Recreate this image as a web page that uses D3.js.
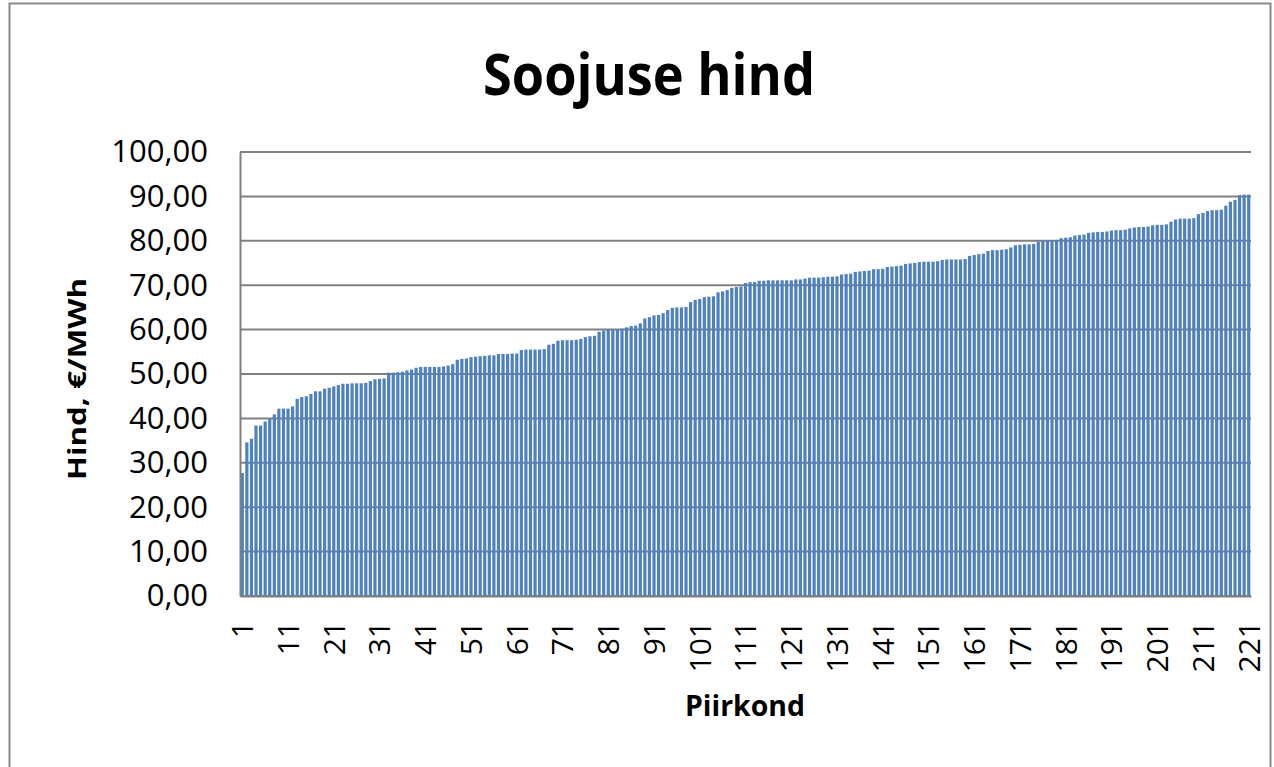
<!DOCTYPE html>
<html>
<head>
<meta charset="utf-8">
<script src="https://cdn.jsdelivr.net/npm/d3@7"></script>
<style>
  html, body { margin: 0; padding: 0; background: #fff; }
  svg { display: block; font-family: "Open Sans", "Noto Sans", sans-serif; }
</style>
</head>
<body>
<svg id="chart" width="1274" height="767"></svg>
<script>
// Hinnad piirkondade kaupa (sorteeritud), €/MWh
const prices = [
  27.7, 34.6, 35.4, 38.4, 38.4, 39.3, 39.9, 40.9, 42.2, 42.2,
  42.2, 42.7, 44.4, 44.8, 45.0, 45.5, 46.1, 46.1, 46.7, 46.9,
  47.2, 47.5, 47.8, 47.8, 47.9, 47.9, 47.9, 48.0, 48.4, 48.8,
  48.9, 49.0, 50.3, 50.3, 50.4, 50.5, 50.8, 51.0, 51.4, 51.6,
  51.6, 51.6, 51.6, 51.6, 51.7, 51.9, 52.2, 53.2, 53.4, 53.5,
  53.8, 53.9, 54.0, 54.1, 54.2, 54.2, 54.5, 54.5, 54.5, 54.6,
  54.6, 55.4, 55.5, 55.5, 55.5, 55.5, 55.6, 56.6, 56.8, 57.5,
  57.6, 57.6, 57.6, 57.7, 57.9, 58.3, 58.5, 58.6, 59.5, 59.8,
  60.0, 60.0, 60.1, 60.2, 60.5, 60.8, 60.9, 61.4, 62.5, 62.8,
  63.2, 63.3, 63.7, 64.4, 64.9, 65.0, 65.0, 65.1, 66.2, 66.7,
  66.9, 67.3, 67.4, 67.5, 68.4, 68.6, 68.9, 69.4, 69.6, 69.7,
  70.5, 70.7, 70.7, 71.0, 71.0, 71.1, 71.1, 71.1, 71.1, 71.1,
  71.1, 71.3, 71.3, 71.5, 71.7, 71.7, 71.7, 71.8, 71.9, 71.9,
  72.0, 72.4, 72.5, 72.6, 73.0, 73.1, 73.2, 73.3, 73.6, 73.6,
  73.7, 74.1, 74.2, 74.3, 74.4, 74.8, 74.9, 75.0, 75.2, 75.3,
  75.3, 75.3, 75.4, 75.7, 75.8, 75.8, 75.8, 75.8, 75.9, 76.6,
  76.8, 77.0, 77.1, 77.7, 77.9, 77.9, 78.0, 78.1, 78.5, 79.0,
  79.1, 79.2, 79.2, 79.3, 79.8, 80.0, 80.0, 80.1, 80.2, 80.6,
  80.7, 80.8, 81.2, 81.3, 81.4, 81.8, 81.9, 82.0, 82.0, 82.1,
  82.3, 82.4, 82.4, 82.5, 82.8, 83.0, 83.1, 83.1, 83.2, 83.5,
  83.6, 83.6, 83.7, 84.3, 84.8, 85.0, 85.0, 85.0, 85.1, 86.0,
  86.3, 86.7, 86.9, 86.9, 87.0, 87.9, 88.8, 89.2, 90.3, 90.4,
  90.4
];

// Piirkonna numbrid 1..221
const regions = prices.map((p, i) => i + 1);

// Telje jaotised
const yTicks = [0, 10, 20, 30, 40, 50, 60, 70, 80, 90, 100];
const xTickLabels = [1, 11, 21, 31, 41, 51, 61, 71, 81, 91, 101, 111, 121,
  131, 141, 151, 161, 171, 181, 191, 201, 211, 221];

const titleText = "Soojuse hind";
const yTitle = "Hind, €/MWh";
const xTitle = "Piirkond";

const svg = d3.select("#chart");

const plot = { left: 240, right: 1251, top: 152, bottom: 596 };

// chart frame
svg.append("rect")
  .attr("x", 9.5).attr("y", 3.5)
  .attr("width", 1261).attr("height", 780)
  .attr("fill", "#fff")
  .attr("stroke", "#8a8a8a")
  .attr("stroke-width", 2);

const x = d3.scaleBand()
  .domain(regions)
  .range([plot.left, plot.right])
  .paddingInner(0.3)
  .paddingOuter(0.15);

const y = d3.scaleLinear()
  .domain([0, 100])
  .range([plot.bottom, plot.top]);

// gridlines
svg.append("g")
  .selectAll("line")
  .data(yTicks)
  .join("line")
  .attr("x1", plot.left)
  .attr("x2", plot.right)
  .attr("y1", d => y(d))
  .attr("y2", d => y(d))
  .attr("stroke", "#808080")
  .attr("stroke-width", 2);

// bars
svg.append("g")
  .selectAll("rect")
  .data(prices)
  .join("rect")
  .attr("x", (d, i) => x(regions[i]))
  .attr("width", x.bandwidth())
  .attr("y", d => y(d))
  .attr("height", d => y(0) - y(d))
  .attr("fill", "#4f81bd");

// y axis
const yAxis = svg.append("g")
  .attr("transform", `translate(${plot.left},0)`)
  .call(d3.axisLeft(y)
    .tickValues(yTicks)
    .tickSize(0)
    .tickPadding(32)
    .tickFormat(d => d.toFixed(2).replace(".", ",")));
yAxis.select(".domain").attr("stroke", "#808080").attr("stroke-width", 2);
yAxis.selectAll("text")
  .attr("font-size", 31)
  .attr("fill", "#000")
  .style("font-family", "'Open Sans', sans-serif");

// x axis
const xAxis = svg.append("g")
  .attr("transform", `translate(0,${plot.bottom})`)
  .call(d3.axisBottom(x)
    .tickValues(xTickLabels)
    .tickSize(0)
    .tickFormat(d => d));
xAxis.select(".domain").attr("stroke", "#808080").attr("stroke-width", 2);
xAxis.selectAll("text")
  .attr("font-size", 30)
  .attr("fill", "#000")
  .style("font-family", "'Open Sans', sans-serif")
  .attr("text-anchor", "end")
  .attr("transform", "rotate(-90)")
  .attr("x", -25)
  .attr("y", 0)
  .attr("dy", "0.36em");

// titles
svg.append("text")
  .attr("x", 649)
  .attr("y", 95)
  .attr("text-anchor", "middle")
  .attr("font-size", 58)
  .attr("font-weight", "bold")
  .attr("textLength", 332)
  .attr("lengthAdjust", "spacingAndGlyphs")
  .text(titleText);

svg.append("text")
  .attr("transform", "translate(86,379) rotate(-90)")
  .attr("text-anchor", "middle")
  .attr("font-size", 25)
  .attr("font-weight", "bold")
  .attr("textLength", 202)
  .attr("lengthAdjust", "spacingAndGlyphs")
  .text(yTitle);

svg.append("text")
  .attr("x", 745)
  .attr("y", 716)
  .attr("text-anchor", "middle")
  .attr("font-size", 28)
  .attr("font-weight", "bold")
  .attr("textLength", 120)
  .attr("lengthAdjust", "spacingAndGlyphs")
  .text(xTitle);
</script>
</body>
</html>
